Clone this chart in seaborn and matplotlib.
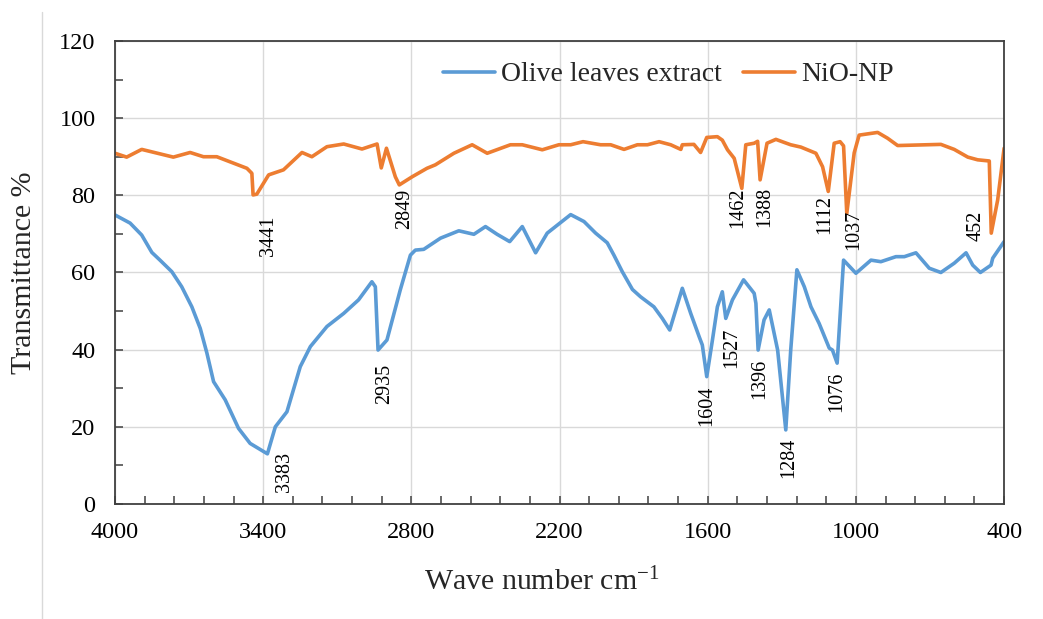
import matplotlib
matplotlib.use("Agg")
import matplotlib.pyplot as plt
from matplotlib.lines import Line2D
from matplotlib.ticker import MultipleLocator
import numpy as np
import pandas as pd
import seaborn as sns

# FTIR spectra: wavenumber (cm^-1) and transmittance (%)
olive_wn = [4000, 3939, 3892, 3851, 3818, 3770, 3730, 3689, 3655, 3628, 3601, 3554,
            3500, 3453, 3383, 3351, 3304, 3250, 3209, 3142, 3074, 3014, 2960, 2946,
            2935, 2899, 2845, 2804, 2784, 2750, 2682, 2608, 2547, 2500, 2453, 2402,
            2351, 2297, 2250, 2155, 2101, 2054, 2007, 1980, 1946, 1905, 1872, 1818,
            1784, 1754, 1703, 1669, 1635, 1622, 1604, 1581, 1561, 1541, 1527, 1500,
            1455, 1412, 1405, 1396, 1372, 1351, 1317, 1284, 1264, 1239, 1209, 1182,
            1149, 1108, 1095, 1076, 1050, 1000, 939, 899, 838, 804, 757, 703, 656,
            602, 554, 527, 496, 453, 446, 400]
olive_t = [74.9, 72.8, 69.7, 65.2, 63.2, 60.2, 56.3, 51.1, 45.5, 39.1, 31.7, 27.0,
           19.6, 15.7, 13.0, 20.0, 23.9, 35.6, 40.8, 46.0, 49.4, 52.9, 57.6, 56.3,
           39.9, 42.5, 55.5, 64.5, 65.8, 66.0, 68.9, 70.8, 69.9, 71.9, 69.9, 68.0,
           71.9, 65.1, 70.2, 75.0, 73.2, 70.2, 67.7, 64.5, 60.2, 55.6, 53.7, 51.1,
           48.1, 45.1, 55.9, 49.4, 43.4, 41.2, 33.0, 42.5, 51.1, 55.0, 48.1, 52.9,
           58.1, 54.6, 52.0, 39.9, 47.7, 50.3, 39.9, 19.2, 39.9, 60.7, 56.3, 51.1,
           46.8, 40.4, 39.9, 36.5, 63.2, 59.8, 63.2, 62.8, 64.1, 64.1, 65.1, 61.1, 60.0,
           62.4, 65.1, 61.9, 60.0, 61.9, 63.7, 68.0]

nio_wn = [4000, 3953, 3892, 3764, 3696, 3642, 3588, 3466, 3446, 3441, 3426, 3378,
          3318, 3243, 3203, 3142, 3074, 3000, 2939, 2922, 2901, 2865, 2849, 2797,
          2737, 2703, 2628, 2554, 2493, 2399, 2351, 2270, 2203, 2155, 2105, 2034,
          1993, 1939, 1885, 1844, 1797, 1750, 1709, 1703, 1656, 1629, 1604, 1561,
          1541, 1520, 1493, 1462, 1446, 1412, 1398, 1388, 1360, 1324, 1290, 1264,
          1223, 1162, 1135, 1112, 1088, 1064, 1050, 1037, 1007, 987, 912, 872, 831,
          656, 602, 547, 507, 460, 452, 426, 400]
nio_t = [90.9, 89.9, 91.9, 89.9, 91.1, 90.0, 90.0, 87.0, 85.7, 80.1, 80.3, 85.3,
         86.6, 91.1, 90.0, 92.6, 93.3, 92.0, 93.3, 87.1, 92.2, 84.8, 82.7, 84.8,
         87.0, 87.9, 90.9, 93.1, 90.9, 93.1, 93.1, 91.8, 93.1, 93.1, 93.9, 93.1,
         93.1, 91.9, 93.1, 93.1, 93.9, 93.1, 91.9, 93.1, 93.2, 91.1, 95.0, 95.2,
         94.3, 91.8, 89.6, 81.8, 93.1, 93.5, 94.0, 84.0, 93.5, 94.5, 93.7, 93.1,
         92.5, 90.9, 87.4, 81.0, 93.5, 93.9, 92.8, 75.3, 91.0, 95.6, 96.3, 94.8, 92.9,
         93.2, 91.9, 89.9, 89.2, 88.9, 70.2, 78.8, 92.2]

series_names = ["Olive leaves extract", "NiO-NP"]
series_colors = ["#5B9BD5", "#ED7D31"]

# Band labels (wavenumber of the band minimum)
olive_bands = [3383, 2935, 1604, 1527, 1396, 1284, 1076]
nio_bands = [3441, 2849, 1462, 1388, 1112, 1037, 452]

# Label offsets in pixels (dx, dy) from the band minimum to the top of the rotated label
olive_offsets = [(17, 2), (7, -14), (0, -9), (6, -9), (2, -9), (3, -8), (0, -8)]
nio_offsets = [(15, -21), (5, -4), (-4, 1), (5, -7), (-4, -4), (7, 4), (-15, 22)]

df = pd.concat([
    pd.DataFrame({"wn": olive_wn, "T": olive_t, "sample": series_names[0]}),
    pd.DataFrame({"wn": nio_wn, "T": nio_t, "sample": series_names[1]}),
], ignore_index=True)

sns.set_theme(style="white")
plt.rcParams["font.family"] = ["Liberation Serif", "DejaVu Serif"]
plt.rcParams["mathtext.fontset"] = "custom"
plt.rcParams["mathtext.rm"] = "Liberation Serif"
plt.rcParams["mathtext.it"] = "Liberation Serif:italic"

fig = plt.figure(figsize=(10.43, 6.19), dpi=100)
ax = fig.add_axes([0.1103, 0.1858, 0.8524, 0.748])

sns.lineplot(data=df, x="wn", y="T", hue="sample", palette=series_colors,
             hue_order=series_names, sort=False, estimator=None, lw=2.6,
             ax=ax, legend=True)

ax.set_xlim(4000, 400)
ax.set_ylim(0, 120)
ax.xaxis.set_major_locator(MultipleLocator(600, offset=400))
ax.xaxis.set_minor_locator(MultipleLocator(120, offset=40))
ax.yaxis.set_major_locator(MultipleLocator(20))
ax.yaxis.set_minor_locator(MultipleLocator(10))
ax.grid(True, which="major", color="#d9d9d9", lw=1.0)
ax.set_axisbelow(True)

for sp in ax.spines.values():
    sp.set_visible(True)
    sp.set_color("#404040")
    sp.set_linewidth(1.3)

ax.tick_params(axis="both", which="both", direction="in", colors="#404040",
               labelcolor="black", labelsize=17.5, width=1.1)
ax.tick_params(axis="both", which="major", length=6)
ax.tick_params(axis="both", which="minor", length=6)
ax.tick_params(axis="y", which="both", left=True, pad=14)
ax.tick_params(axis="x", which="both", bottom=True, pad=13)

ax.set_xlabel("Wave number cm$^{-1}$", fontsize=21.5, labelpad=18)
ax.set_ylabel("Transmittance %", fontsize=21.5, labelpad=16)
ax.xaxis.label.set_x(0.48)

leg = ax.legend(loc="center", bbox_to_anchor=(0.622, 0.927), ncol=2, frameon=False,
                fontsize=20, handlelength=1.9, handletextpad=0.2, columnspacing=0.75,
                borderaxespad=0)
for line in leg.get_lines():
    line.set_linewidth(2.6)

def label_bands(wn, t, bands, offsets):
    lookup = dict(zip(wn, t))
    for b, (dx, dy) in zip(bands, offsets):
        ax.annotate(str(b), xy=(b, lookup[b]), xytext=(dx, dy),
                    textcoords="offset pixels", rotation=90, ha="center", va="top",
                    fontsize=14.5, color="black")

label_bands(olive_wn, olive_t, olive_bands, olive_offsets)
label_bands(nio_wn, nio_t, nio_bands, nio_offsets)

fig.add_artist(Line2D([0.0398, 0.0398], [0.0, 0.98], transform=fig.transFigure,
                      color="#d9d9d9", lw=1.0))

fig.savefig("out.png", dpi=100)
